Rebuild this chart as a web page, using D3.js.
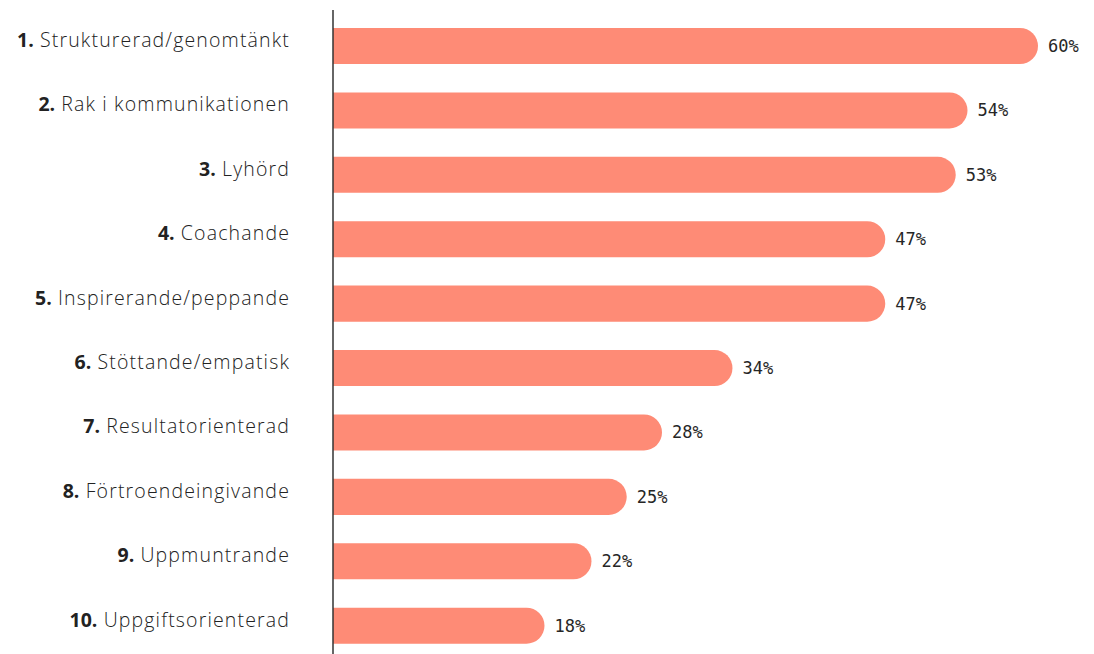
<!DOCTYPE html>
<html>
<head>
<meta charset="utf-8">
<script src="https://cdn.jsdelivr.net/npm/d3@7"></script>
<style>
  html, body { margin: 0; padding: 0; background: #fff; }
  svg { display: block; }
  .cat { font-family: "Open Sans", "Noto Sans", sans-serif; font-size: 19.5px; font-weight: 300; letter-spacing: 1.15px; fill: #222; }
  .cat .num { font-weight: 700; letter-spacing: 0; }
  .val { font-family: "DejaVu Sans Mono", monospace; font-size: 17px; fill: #262626; }
</style>
</head>
<body>
<svg id="chart" width="1094" height="654"></svg>
<script>
// Ranked traits, with share of respondents (percent)
const ranks = [1, 2, 3, 4, 5, 6, 7, 8, 9, 10];
const traits = [
  "Strukturerad/genomtänkt",
  "Rak i kommunikationen",
  "Lyhörd",
  "Coachande",
  "Inspirerande/peppande",
  "Stöttande/empatisk",
  "Resultatorienterad",
  "Förtroendeingivande",
  "Uppmuntrande",
  "Uppgiftsorienterad"
];
const shares = [60, 54, 53, 47, 47, 34, 28, 25, 22, 18];

const rows = traits.map((t, i) => ({ rank: ranks[i], trait: t, share: shares[i] }));

const svg = d3.select("#chart");
const x0 = 333;

const x = d3.scaleLinear().domain([0, 60]).range([x0, 1038]);
const y = d3.scaleBand()
  .domain(rows.map(d => d.trait))
  .range([28, 643.7])
  .paddingInner(0.44)
  .paddingOuter(0);

const bh = y.bandwidth();
const r = bh / 2;

// Bars: square at the baseline, fully rounded at the value end
svg.append("g").selectAll("path")
  .data(rows)
  .join("path")
  .attr("fill", "#FE8B76")
  .attr("d", d => {
    const y0 = y(d.trait), x1 = x(d.share);
    return `M${x0},${y0} H${x1 - r} A${r},${r} 0 0 1 ${x1 - r},${y0 + bh} H${x0} Z`;
  });

// Value labels
svg.append("g").selectAll("text")
  .data(rows)
  .join("text")
  .attr("class", "val")
  .attr("x", d => x(d.share) + 10)
  .attr("y", d => y(d.trait) + bh / 2 + 6)
  .text(d => d.share + "%");

// Category labels with bold rank
const cats = svg.append("g").selectAll("text")
  .data(rows)
  .join("text")
  .attr("class", "cat")
  .attr("x", 290)
  .attr("y", d => y(d.trait) + bh / 2 + 1)
  .attr("text-anchor", "end");
cats.append("tspan").attr("class", "num").text(d => d.rank + ".");
cats.append("tspan").text(d => " " + d.trait);

// Vertical baseline axis
svg.append("line")
  .attr("x1", x0).attr("x2", x0)
  .attr("y1", 10).attr("y2", 654)
  .attr("stroke", "#333")
  .attr("stroke-width", 1.5);
</script>
</body>
</html>
